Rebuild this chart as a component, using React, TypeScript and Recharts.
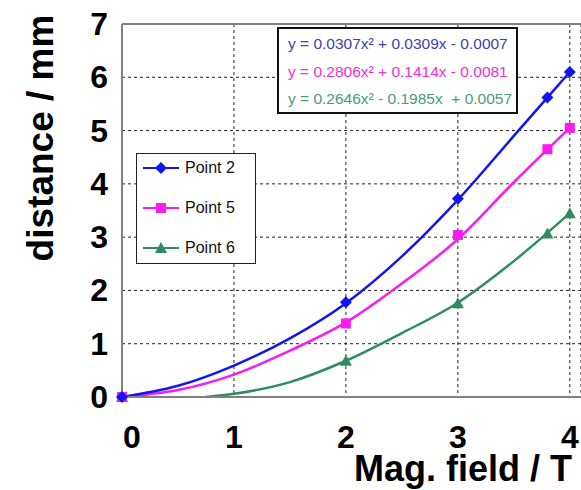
import React from 'react';
import {
  ComposedChart, Line, Scatter, XAxis, YAxis, CartesianGrid, ReferenceLine
} from 'recharts';

// measured points (field in T, distance in mm)
const fieldValues = [0, 2, 3, 3.8, 4];
const point2Values = [0, 1.78, 3.72, 5.62, 6.1];
const point5Values = [0, 1.38, 3.04, 4.65, 5.05];
const point6Values = [0, 0.68, 1.76, 3.07, 3.45];

// fitted trend curves
const trendField = [0, 0.5, 1, 1.5, 2, 2.5, 3, 3.5, 4];
const trend2Values = [0, 0.21, 0.59, 1.1, 1.76, 2.64, 3.7, 4.9, 6.1];
const trend5Values = [0, 0.13, 0.42, 0.87, 1.4, 2.13, 2.96, 4.03, 5.05];
const trend6Field = [0.75, 1, 1.5, 2, 2.5, 3, 3.5, 4];
const trend6Values = [0, 0.06, 0.28, 0.68, 1.2, 1.77, 2.55, 3.45];

const xTicks = [0, 1, 2, 3, 4];
const yTicks = [0, 1, 2, 3, 4, 5, 6, 7];

const equations = [
  { text: 'y = 0.0307x\u00b2 + 0.0309x - 0.0007', color: '#4040b4' },
  { text: 'y = 0.2806x\u00b2 + 0.1414x - 0.0081', color: '#f030d4' },
  { text: 'y = 0.2646x\u00b2 - 0.1985x  + 0.0057', color: '#4a9a7c' },
];

const BLUE = '#1414f0';
const MAGENTA = '#f81cf0';
const GREEN = '#2f8c62';
const FONT = '"Liberation Sans", Arial, sans-serif';

const toPoints = (xs: number[], ys: number[]) => xs.map((x, i) => ({ x, y: ys[i] }));

const diamondShape = (color: string) => (props: any) => {
  const { cx, cy } = props;
  const r = 6;
  return <polygon points={`${cx},${cy - r} ${cx + r},${cy} ${cx},${cy + r} ${cx - r},${cy}`} fill={color} />;
};

const squareShape = (color: string) => (props: any) => {
  const { cx, cy } = props;
  return <rect x={cx - 5} y={cy - 5} width={10} height={10} fill={color} />;
};

const triangleShape = (color: string) => (props: any) => {
  const { cx, cy } = props;
  return <polygon points={`${cx},${cy - 6} ${cx + 6},${cy + 5} ${cx - 6},${cy + 5}`} fill={color} />;
};

const XTick = ({ x, y, payload }: any) => (
  <text x={x + (payload.value === 0 ? 10 : 0)} y={y} dy={51} textAnchor="middle"
    fontSize={32} fontWeight="bold" fontFamily={FONT} fill="#000">
    {payload.value}
  </text>
);

const YTick = ({ x, y, payload }: any) => (
  <text x={x} y={y} dy={11} textAnchor="end"
    fontSize={32} fontWeight="bold" fontFamily={FONT} fill="#000">
    {payload.value}
  </text>
);

const legendItems = [
  { name: 'Point 2', color: BLUE, shape: diamondShape(BLUE) },
  { name: 'Point 5', color: MAGENTA, shape: squareShape(MAGENTA) },
  { name: 'Point 6', color: GREEN, shape: triangleShape(GREEN) },
];

const LegendBox = () => (
  <div style={{
    position: 'absolute', left: 136, top: 153, width: 120, height: 111,
    border: '1px solid #222', background: '#fff', boxSizing: 'border-box',
    fontFamily: FONT, fontSize: 16, color: '#111',
  }}>
    {legendItems.map((item, i) => (
      <div key={item.name} style={{ position: 'absolute', left: 5, top: 4 + i * 40, display: 'flex', alignItems: 'center', height: 20 }}>
        <svg width={38} height={20}>
          <line x1={1} y1={10} x2={37} y2={10} stroke={item.color} strokeWidth={2} />
          {item.shape({ cx: 19, cy: 10 })}
        </svg>
        <span style={{ marginLeft: 5 }}>{item.name}</span>
      </div>
    ))}
  </div>
);

const App: React.FC = () => {
  return (
    <div style={{ position: 'absolute', left: 0, top: 0, width: 581, height: 490, background: '#fff' }}>
      <ComposedChart width={581} height={490} margin={{ top: 24, right: 0, left: 0, bottom: 0 }}>
        <CartesianGrid stroke="#222" strokeDasharray="3 3" strokeWidth={1} />
        <XAxis dataKey="x" type="number" domain={[0, 4.1]} ticks={xTicks} height={93}
          tick={<XTick />} tickLine={false} tickSize={0} tickMargin={0}
          axisLine={{ stroke: '#808080', strokeWidth: 2 }}
          label={{ value: 'Mag. field / T', position: 'insideBottomRight', offset: 9,
            fontSize: 36, fontWeight: 'bold', fontFamily: FONT, fill: '#000' }} />
        <YAxis type="number" domain={[0, 7]} ticks={yTicks} width={122}
          tick={<YTick />} tickLine={false} tickSize={0} tickMargin={14}
          axisLine={{ stroke: '#808080', strokeWidth: 2 }}
          label={{
            content: () => (
              <text transform="translate(40,138) rotate(-90)" textAnchor="middle" dominantBaseline="central"
                fontSize={37} fontWeight="bold" fontFamily={FONT} fill="#000">
                distance / mm
              </text>
            ),
          }} />
        <ReferenceLine y={7} stroke="#808080" strokeWidth={2} />

        <Line data={toPoints(trend6Field, trend6Values)} dataKey="y" type="monotone" stroke={GREEN}
          strokeWidth={2.5} dot={false} isAnimationActive={false} />
        <Line data={toPoints(trendField, trend5Values)} dataKey="y" type="monotone" stroke={MAGENTA}
          strokeWidth={2.5} dot={false} isAnimationActive={false} />
        <Line data={toPoints(trendField, trend2Values)} dataKey="y" type="monotone" stroke={BLUE}
          strokeWidth={2.5} dot={false} isAnimationActive={false} />

        <Scatter name="Point 6" data={toPoints(fieldValues, point6Values)} dataKey="y"
          shape={triangleShape(GREEN)} isAnimationActive={false} />
        <Scatter name="Point 5" data={toPoints(fieldValues, point5Values)} dataKey="y"
          shape={squareShape(MAGENTA)} isAnimationActive={false} />
        <Scatter name="Point 2" data={toPoints(fieldValues, point2Values)} dataKey="y"
          shape={diamondShape(BLUE)} isAnimationActive={false} />
      </ComposedChart>

      <LegendBox />

      <div style={{
        position: 'absolute', left: 277, top: 27, width: 241, height: 87, boxSizing: 'border-box',
        border: '2px solid #111', background: '#fff', fontFamily: FONT, fontSize: 15.5,
      }}>
        {equations.map((eq, i) => (
          <div key={eq.text} style={{ position: 'absolute', left: 9, top: 6 + i * 27.5, color: eq.color, whiteSpace: 'pre' }}>
            {eq.text}
          </div>
        ))}
      </div>
    </div>
  );
};

export default App;
